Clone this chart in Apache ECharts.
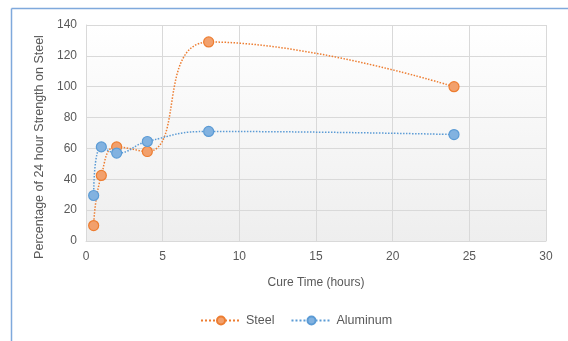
<!DOCTYPE html>
<html>
<head>
<meta charset="utf-8">
<script src="https://cdn.jsdelivr.net/npm/echarts@6/dist/echarts.min.js"></script>
<style>
  html, body { margin: 0; padding: 0; background: #fff; }
  #chart { width: 568px; height: 341px; }
</style>
</head>
<body>
<div id="chart"></div>
<script>
// Cure time (hours) at which each sample was tested
const cureHours = [0.5, 1, 2, 4, 8, 24];
// Percentage of 24 hour strength on steel
const steelValues = [10, 42.5, 61, 58, 129, 100];
const aluminumValues = [29.5, 61, 57, 64.5, 71, 69];
const yTicks = [0, 20, 40, 60, 80, 100, 120, 140];
const xTicks = [0, 5, 10, 15, 20, 25, 30];

const FONT = '"Liberation Sans", Arial, sans-serif';
const TEXT = '#595959';
const GRID_LINE = '#d9d9d9';

function pairs(xs, ys) {
  return xs.map((x, i) => [x, ys[i]]);
}

const chart = echarts.init(document.getElementById('chart'), null, { renderer: 'canvas' });

chart.setOption({
  backgroundColor: '#ffffff',
  animation: false,
  textStyle: { fontFamily: FONT },
  graphic: [
    // chart frame edges (top and left)
    { type: 'line', shape: { x1: 11.5, y1: 8.5, x2: 568, y2: 8.5 }, style: { stroke: '#7fa9dc', lineWidth: 1.5 }, silent: true },
    { type: 'line', shape: { x1: 11.5, y1: 8.5, x2: 11.5, y2: 341 }, style: { stroke: '#7fa9dc', lineWidth: 1.5 }, silent: true }
  ],
  grid: {
    left: 86, right: 22, top: 25, bottom: 100,
    show: true,
    borderWidth: 0,
    backgroundColor: new echarts.graphic.LinearGradient(0, 0, 0, 1, [
      { offset: 0, color: '#ffffff' },
      { offset: 1, color: '#eeeeee' }
    ])
  },
  xAxis: {
    type: 'value',
    min: xTicks[0], max: xTicks[xTicks.length - 1], interval: 5,
    name: 'Cure Time (hours)',
    nameLocation: 'middle',
    nameGap: 36,
    nameTextStyle: { color: TEXT, fontSize: 12, fontFamily: FONT },
    axisLine: { show: true, lineStyle: { color: GRID_LINE, width: 1 } },
    axisTick: { show: false },
    axisLabel: { color: TEXT, fontSize: 12, margin: 10, fontFamily: FONT },
    splitLine: { show: true, lineStyle: { color: GRID_LINE, width: 1 } }
  },
  yAxis: {
    type: 'value',
    min: yTicks[0], max: yTicks[yTicks.length - 1], interval: 20,
    name: 'Percentage of 24 hour Strength on Steel',
    nameLocation: 'middle',
    nameGap: 35,
    nameRotate: 90,
    nameTextStyle: { color: TEXT, fontSize: 12.5, fontFamily: FONT, padding: [0, 28, 0, 0] },
    axisLine: { show: true, lineStyle: { color: GRID_LINE, width: 1 } },
    axisTick: { show: false },
    axisLabel: { color: TEXT, fontSize: 12, margin: 9, fontFamily: FONT },
    splitLine: { show: true, lineStyle: { color: GRID_LINE, width: 1 } }
  },
  legend: {
    bottom: 14,
    left: 200,
    padding: 0,
    itemWidth: 40,
    itemHeight: 10,
    itemGap: 16,
    textStyle: { color: TEXT, fontSize: 12.5, fontFamily: FONT },
    data: ['Steel', 'Aluminum']
  },
  series: [
    {
      name: 'Steel',
      type: 'line',
      data: pairs(cureHours, steelValues),
      smooth: 0.5,
      symbol: 'circle',
      symbolSize: 10,
      color: '#ED7D31',
      lineStyle: { color: '#ED7D31', width: 1.5, type: 'dotted' },
      itemStyle: { color: '#F2A06C', borderColor: '#ED7D31', borderWidth: 1.2 }
    },
    {
      name: 'Aluminum',
      type: 'line',
      data: pairs(cureHours, aluminumValues),
      smooth: 0.5,
      symbol: 'circle',
      symbolSize: 10,
      color: '#5B9BD5',
      lineStyle: { color: '#5B9BD5', width: 1.5, type: 'dotted' },
      itemStyle: { color: '#82B2E0', borderColor: '#5B9BD5', borderWidth: 1.2 }
    }
  ]
});
</script>
</body>
</html>
